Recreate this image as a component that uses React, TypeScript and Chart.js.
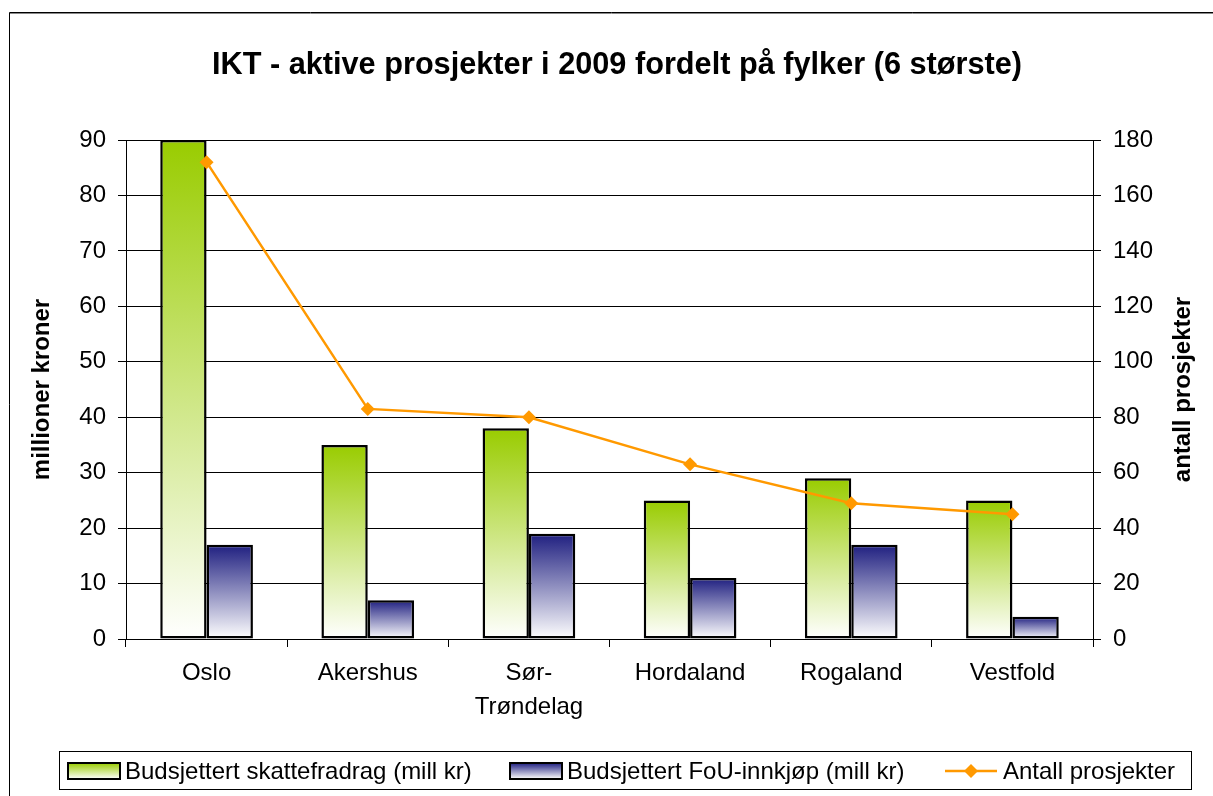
import React, { useEffect, useRef } from "react";
import { Chart, registerables } from "chart.js";

Chart.register(...registerables);

const categories: (string | string[])[] = ["Oslo", "Akershus", ["Sør-", "Trøndelag"], "Hordaland", "Rogaland", "Vestfold"];
const skattefradrag = [90, 35, 38, 25, 29, 25];
const fouInnkjop = [17, 7, 19, 11, 17, 4];
const antallProsjekter = [172, 83, 80, 63, 49, 45];
const leftTicks = { min: 0, max: 90, step: 10 };
const rightTicks = { min: 0, max: 180, step: 20 };

const TITLE = "IKT - aktive prosjekter i 2009 fordelt på fylker (6 største)";
const LEFT_TITLE = "millioner kroner";
const RIGHT_TITLE = "antall prosjekter";
const LABEL_1 = "Budsjettert skattefradrag (mill kr)";
const LABEL_2 = "Budsjettert FoU-innkjøp (mill kr)";
const LABEL_3 = "Antall prosjekter";

const GREEN = "#99CC00";
const NAVY = "#1F1F80";
const ORANGE = "#FF9900";
const FONT = "'Liberation Sans', Arial, sans-serif";

function gradientFill(top: string) {
  return (ctx: any) => {
    const chart = ctx.chart;
    const area = chart.chartArea;
    if (!area || ctx.type !== "data") return top;
    const ys = chart.scales.y;
    const v = ctx.raw as number;
    const y0 = ys.getPixelForValue(v);
    const y1 = ys.getPixelForValue(0);
    const g = chart.ctx.createLinearGradient(0, y0, 0, y1);
    g.addColorStop(0, top);
    g.addColorStop(1, "#FFFFFF");
    return g;
  };
}

const decorPlugin = {
  id: "decor",
  beforeDraw(chart: any) {
    const c = chart.ctx as CanvasRenderingContext2D;
    c.save();
    c.fillStyle = "#ffffff";
    c.fillRect(0, 0, chart.width, chart.height);
    c.strokeStyle = "#000";
    c.lineWidth = 1;
    c.beginPath();
    c.moveTo(9.5, chart.height);
    c.lineTo(9.5, 12.5);
    c.lineTo(chart.width, 12.5);
    c.stroke();
    c.strokeStyle = "#888";
    c.beginPath();
    c.moveTo(10, 13.5);
    c.lineTo(chart.width, 13.5);
    c.stroke();
    c.restore();
  },
  afterDraw(chart: any) {
    const c = chart.ctx as CanvasRenderingContext2D;
    const area = chart.chartArea;
    c.save();
    c.fillStyle = "#000";
    c.font = `bold 30.7px ${FONT}`;
    c.textAlign = "center";
    c.textBaseline = "middle";
    c.fillText(TITLE, 617, 66);
    const midY = (area.top + area.bottom) / 2;
    c.font = `bold 24px ${FONT}`;
    c.save();
    c.translate(42, midY);
    c.rotate(-Math.PI / 2);
    c.fillText(LEFT_TITLE, 0, 0);
    c.restore();
    c.save();
    c.translate(1183, midY);
    c.rotate(-Math.PI / 2);
    c.fillText(RIGHT_TITLE, 0, 0);
    c.restore();

    // legend
    const ds = chart.data.datasets;
    const byLabel = (l: string) => ds.find((d: any) => d.label === l).label;
    c.strokeStyle = "#000";
    c.lineWidth = 1;
    c.strokeRect(59.5, 751.5, 1132, 38);
    const cy = 771;
    const sw = (x: number, color: string) => {
      const g = c.createLinearGradient(0, cy - 8, 0, cy + 8);
      g.addColorStop(0, color);
      g.addColorStop(1, "#FFFFFF");
      c.fillStyle = g;
      c.fillRect(x, cy - 8, 52, 16);
      c.lineWidth = 2;
      c.strokeStyle = "#000";
      c.strokeRect(x, cy - 8, 52, 16);
    };
    sw(68, GREEN);
    sw(510, NAVY);
    c.strokeStyle = ORANGE;
    c.lineWidth = 2.5;
    c.beginPath();
    c.moveTo(945, cy);
    c.lineTo(997, cy);
    c.stroke();
    c.fillStyle = ORANGE;
    c.beginPath();
    c.moveTo(971, cy - 7);
    c.lineTo(978, cy);
    c.lineTo(971, cy + 7);
    c.lineTo(964, cy);
    c.closePath();
    c.fill();
    c.fillStyle = "#000";
    c.font = `24px ${FONT}`;
    c.textAlign = "left";
    c.textBaseline = "middle";
    c.fillText(byLabel(LABEL_1), 125, cy + 1);
    c.fillText(byLabel(LABEL_2), 567, cy + 1);
    c.fillText(byLabel(LABEL_3), 1003, cy + 1);
    c.restore();
  },
};

export default function App() {
  const ref = useRef<HTMLCanvasElement | null>(null);
  useEffect(() => {
    if (!ref.current) return;
    const chart = new Chart(ref.current, {
      type: "bar",
      data: {
        labels: categories,
        datasets: [
          {
            type: "line",
            label: LABEL_3,
            data: antallProsjekter,
            yAxisID: "y1",
            borderColor: ORANGE,
            backgroundColor: ORANGE,
            borderWidth: 2.5,
            pointStyle: "rectRot",
            pointRadius: 7,
            pointBorderWidth: 0,
            pointBackgroundColor: ORANGE,
            tension: 0,
            order: 0,
          } as any,
          {
            type: "bar",
            label: LABEL_1,
            data: skattefradrag,
            yAxisID: "y",
            backgroundColor: gradientFill(GREEN),
            borderColor: "#000",
            borderWidth: 2.5,
            borderSkipped: false,
            categoryPercentage: 0.575,
            barPercentage: 1,
            order: 1,
          } as any,
          {
            type: "bar",
            label: LABEL_2,
            data: fouInnkjop,
            yAxisID: "y",
            backgroundColor: gradientFill(NAVY),
            borderColor: "#000",
            borderWidth: 2.5,
            borderSkipped: false,
            categoryPercentage: 0.575,
            barPercentage: 1,
            order: 1,
          } as any,
        ],
      },
      options: {
        responsive: false,
        animation: false,
        devicePixelRatio: 1,
        layout: { padding: { top: 140, left: 0, right: 0, bottom: 0 } },
        plugins: {
          legend: { display: false },
          title: { display: false },
          tooltip: { enabled: false },
        },
        scales: {
          x: {
            position: "bottom",
            grid: { display: true, drawOnChartArea: false, offset: true, tickLength: 8, color: "#000", lineWidth: 1 },
            border: { display: true, color: "#000", width: 1 },
            ticks: { color: "#000", font: { family: FONT, size: 24, lineHeight: 1.4 }, padding: 10, maxRotation: 0, autoSkip: false },
            afterFit: (s: any) => { s.height = 157; },
          },
          y: {
            position: "left",
            min: leftTicks.min,
            max: leftTicks.max,
            ticks: { stepSize: leftTicks.step, color: "#000", font: { family: FONT, size: 24 }, padding: 12 },
            grid: { color: "#000", lineWidth: 1, tickLength: 8 },
            border: { display: true, color: "#000", width: 1 },
            afterFit: (s: any) => { s.width = 126; },
          },
          y1: {
            position: "right",
            min: rightTicks.min,
            max: rightTicks.max,
            ticks: { stepSize: rightTicks.step, color: "#000", font: { family: FONT, size: 24 }, padding: 12 },
            grid: { drawOnChartArea: false, color: "#000", lineWidth: 1, tickLength: 8 },
            border: { display: true, color: "#000", width: 1 },
            afterFit: (s: any) => { s.width = 120; },
          },
        },
      } as any,
      plugins: [decorPlugin],
    });
    return () => chart.destroy();
  }, []);
  return (
    <canvas
      ref={ref}
      width={1213}
      height={796}
      style={{ position: "absolute", left: 0, top: 0, width: 1213, height: 796 }}
    />
  );
}
